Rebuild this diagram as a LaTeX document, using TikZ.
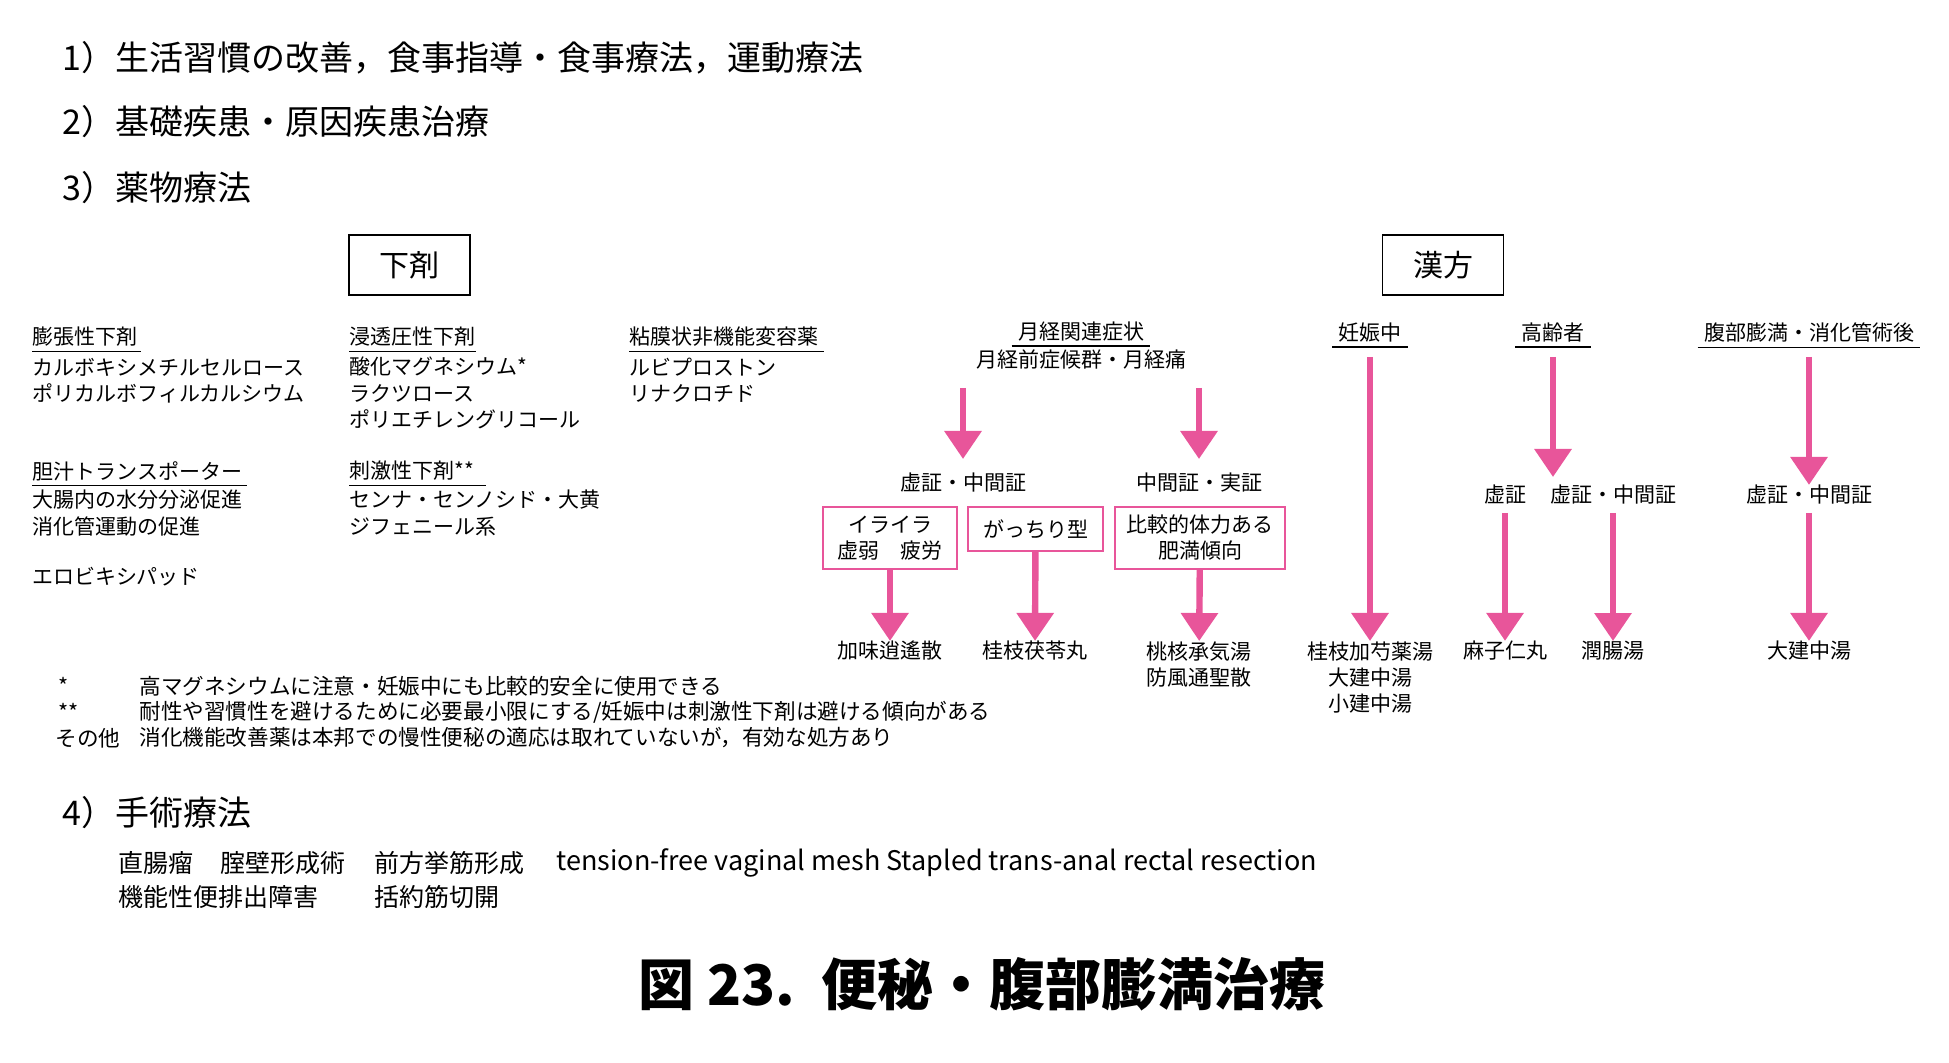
\documentclass[tikz,border=0pt]{standalone}
\usepackage{fontspec}
\setmainfont{Noto Sans CJK JP}
\usetikzlibrary{arrows.meta}
\definecolor{pk}{HTML}{E8559A}
\begin{document}
\begin{tikzpicture}[x=0.5pt,y=-0.5pt,
  every node/.style={inner sep=0pt,font=\fontsize{10.5}{13}\selectfont},
  head/.style={anchor=west,font=\fontsize{17}{20}\selectfont},
  t/.style={anchor=west},
  fn/.style={anchor=west,font=\fontsize{10.8}{13}\selectfont},
  srg/.style={anchor=west,font=\fontsize{12.5}{15}\selectfont},
  c/.style={anchor=center},
  ul/.style={anchor=west,inner ysep=2pt,align=left,append after command={(\tikzlastnode.south west) edge[draw=black,line width=0.6pt] (\tikzlastnode.south east)}},
  cul/.style={anchor=center,inner ysep=2pt,inner xsep=3pt,append after command={(\tikzlastnode.south west) edge[draw=black,line width=0.6pt] (\tikzlastnode.south east)}},
  pbox/.style={draw=pk,line width=0.7pt,align=center,inner sep=0pt},
  ar/.style={draw=pk,line width=3.2pt,-{Triangle[width=18pt,length=14pt]}},
  bigbox/.style={draw=black,line width=0.7pt,minimum width=60.5pt,minimum height=30pt,font=\fontsize{15}{18}\selectfont}]
\useasboundingbox (0,0) rectangle (1949,1063);
\node[head] (h1) at (62,58) {1）生活習慣の改善，食事指導・食事療法，運動療法};
\node[head] (h2) at (62,122) {2）基礎疾患・原因疾患治療};
\node[head] (h3) at (62,188) {3）薬物療法};
\node[bigbox] (ge) at (409.5,265) {下剤};
\node[bigbox] (kp) at (1443,265) {漢方};
% column 1
\node[ul,text width=54pt] (a1) at (32,337) {膨張性下剤};
\node[t] (a2) at (32,367) {カルボキシメチルセルロース};
\node[t] (a3) at (32,393) {ポリカルボフィルカルシウム};
\node[ul,text width=107pt] (b1) at (32,471) {胆汁トランスポーター};
\node[t] (b2) at (32,500) {大腸内の水分分泌促進};
\node[t] (b3) at (32,527) {消化管運動の促進};
\node[t] (b4) at (32,577) {エロビキシパッド};
% column 2
\node[ul,text width=63pt] (c1) at (349,337) {浸透圧性下剤};
\node[t] (c2) at (349,367) {酸化マグネシウム*};
\node[t] (c3) at (349,393) {ラクツロース};
\node[t] (c4) at (349,419) {ポリエチレングリコール};
\node[ul,text width=68pt] (d1) at (349,471) {刺激性下剤**};
\node[t] (d2) at (349,500) {センナ・センノシド・大黄};
\node[t] (d3) at (349,527) {ジフェニール系};
% column 3
\node[ul,text width=97pt] (e1) at (629,337) {粘膜状非機能変容薬};
\node[t] (e2) at (629,367) {ルビプロストン};
\node[t] (e3) at (629,393) {リナクロチド};
% kampo
\node[cul] (m1) at (1081,332) {月経関連症状};
\node[c] (m2) at (1081,360) {月経前症候群・月経痛};
\coordinate (ma) at (963,388); \coordinate (mb) at (1199,388);
\node[c] (k1) at (963,483) {虚証・中間証};
\node[c] (k2) at (1199,483) {中間証・実証};
\draw[ar] (ma) -- (963,459);
\draw[ar] (mb) -- (1199,459);
\node[pbox,minimum width=67pt,minimum height=31pt] (p1) at (890,538) {イライラ\\虚弱\quad 疲労};
\node[pbox,minimum width=67.5pt,minimum height=22pt] (p2) at (1035.5,529) {がっちり型};
\node[pbox,minimum width=85pt,minimum height=31pt] (p3) at (1200,538) {比較的体力ある\\肥満傾向};
\node[c] (r1) at (890,651) {加味逍遙散};
\node[c] (r2) at (1035,651) {桂枝茯苓丸};
\node[c,align=center,anchor=north] (r3) at (1199,641) {桃核承気湯\\防風通聖散};
\draw[ar] (p1) -- (r1);
\draw[ar] (p2) -- (r2);
\draw[ar] (p3) -- (r3);
\node[cul] (n1) at (1370,333) {妊娠中};
\node[c,align=center,anchor=north] (n2) at (1370,641) {桂枝加芍薬湯\\大建中湯\\小建中湯};
\coordinate (n1s) at (1370,357);
\draw[ar] (n1s) -- (n2);
\node[cul] (o1) at (1553,333) {高齢者};
\node[c] (o2) at (1505,495) {虚証};
\node[c] (o3) at (1613,495) {虚証・中間証};
\coordinate (o1s) at (1553,357);
\draw[ar] (o1s) -- (1553,477);
\node[c] (o4) at (1505,651) {麻子仁丸};
\node[c] (o5) at (1613,651) {潤腸湯};
\coordinate (o2s) at (1505,513);
\coordinate (o3s) at (1613,513);
\draw[ar] (o2s) -- (o4);
\draw[ar] (o3s) -- (o5);
\node[cul] (q1) at (1809,333) {腹部膨満・消化管術後};
\coordinate (q1s) at (1809,357);
\node[c] (q2) at (1809,495) {虚証・中間証};
\draw[ar] (q1s) -- (q2);
\node[c] (q3) at (1809,651) {大建中湯};
\coordinate (q2s) at (1809,513);
\draw[ar] (q2s) -- (q3);
% footnotes
\node[fn] (f1) at (58,686) {*};
\node[fn] (f1t) at (139,686) {高マグネシウムに注意・妊娠中にも比較的安全に使用できる};
\node[fn] (f2) at (58,712) {**};
\node[fn] (f2t) at (139,712) {耐性や習慣性を避けるために必要最小限にする/妊娠中は刺激性下剤は避ける傾向がある};
\node[fn] (f3) at (55,738) {その他};
\node[fn] (f3t) at (139,738) {消化機能改善薬は本邦での慢性便秘の適応は取れていないが，有効な処方あり};
\node[head] (h4) at (62,813) {4）手術療法};
\node[srg] (s1) at (118,863) {直腸瘤};
\node[srg] (s2) at (220,863) {腟壁形成術};
\node[srg] (s3) at (374,863) {前方挙筋形成};
\node[srg,font=\fontsize{13.5}{15}\selectfont] (s4) at (556,863) {tension-free vaginal mesh Stapled trans-anal rectal resection};
\node[srg] (s5) at (118,897) {機能性便排出障害};
\node[srg] (s6) at (374,897) {括約筋切開};
\node[c,font=\bfseries\fontsize{28}{32}\selectfont] (title) at (982,984) {図 23.\ \ 便秘・腹部膨満治療};
\end{tikzpicture}
\end{document}
